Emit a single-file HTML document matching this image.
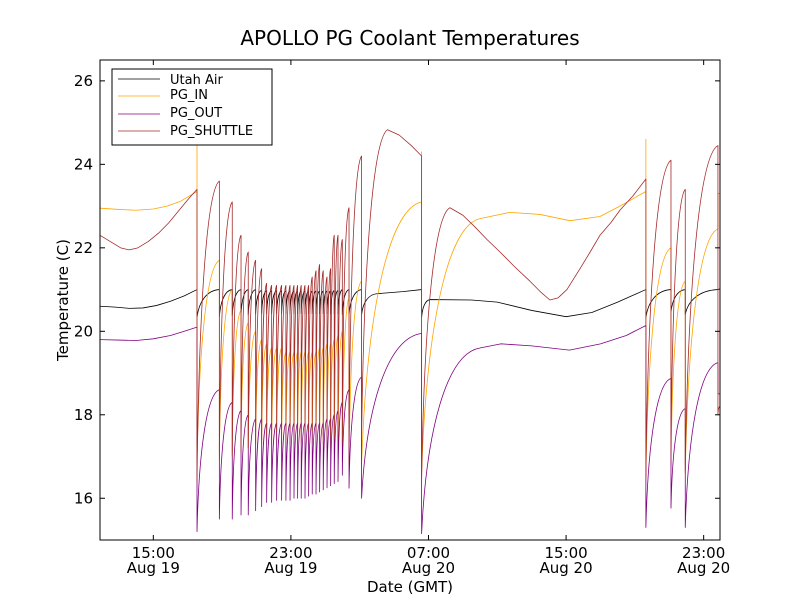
<!DOCTYPE html>
<html><head><meta charset="utf-8"><style>
body{margin:0;background:#fff;}
svg text{font-family:"DejaVu Sans","Liberation Sans",sans-serif;}
</style></head><body>
<svg id="chart" width="800" height="600" xmlns="http://www.w3.org/2000/svg">
<rect width="800" height="600" fill="#fff"/>
<text x="410" y="45" font-size="20" text-anchor="middle">APOLLO PG Coolant Temperatures</text>
<g id="plot"></g>
<rect x="100" y="60" width="620" height="480" fill="none" stroke="#000" stroke-width="1"/>
<g id="ticks"></g>
<text transform="translate(68,300) rotate(-90)" font-size="15" text-anchor="middle">Temperature (C)</text>
<text x="410" y="592" font-size="15" text-anchor="middle">Date (GMT)</text>
<g>
<rect x="112" y="69" width="160" height="76" fill="#fff" stroke="#000" stroke-width="1"/>
<line x1="118" y1="79" x2="160" y2="79" stroke="#000" stroke-width="0.8"/>
<text x="170" y="84" font-size="13">Utah Air</text>
<line x1="118" y1="96" x2="160" y2="96" stroke="#FFA500" stroke-width="0.8"/>
<text x="170" y="99" font-size="13">PG_IN</text>
<line x1="118" y1="114" x2="160" y2="114" stroke="#800080" stroke-width="0.8"/>
<text x="170" y="117" font-size="13">PG_OUT</text>
<line x1="118" y1="131" x2="160" y2="131" stroke="#A52A2A" stroke-width="0.8"/>
<text x="170" y="135" font-size="13">PG_SHUTTLE</text>
</g>
</svg>
<script>
// time in hours since Aug 19 00:00 GMT
const xTicks = [15, 23, 31, 39, 47];
const xTickLabels = [["15:00","Aug 19"],["23:00","Aug 19"],["07:00","Aug 20"],["15:00","Aug 20"],["23:00","Aug 20"]];
const yTicks = [16, 18, 20, 22, 24, 26];
const oscTimes = [17.54,18.84,19.59,20.10,20.52,20.95,21.30,21.59,21.88,22.17,22.46,22.71,22.95,23.18,23.39,23.60,23.82,24.03,24.24,24.46,24.67,24.88,25.10,25.31,25.52,25.74,25.99,26.38,27.11];
const airStart = [[11.9,20.6],[12.8,20.58],[13.6,20.55],[14.4,20.56],[15.2,20.62],[16.0,20.72],[16.8,20.85]];
const airPeak = [21.0,21.0,21.0,21.0,21.0,21.0,20.98,20.97,20.97,20.97,20.97,20.97,20.97,20.97,20.97,20.97,20.97,20.97,20.97,20.97,20.97,20.97,20.97,20.97,20.98,20.98,21.0,21.0,21.0];
const airTrough = [20.33,20.35,20.38,20.4,20.4,20.42,20.42,20.42,20.42,20.42,20.42,20.42,20.42,20.42,20.42,20.42,20.42,20.42,20.42,20.42,20.42,20.42,20.42,20.42,20.42,20.42,20.4,20.4,20.4];
const airEnd = [[28.0,20.9],[29.5,20.95],[30.6,21.0],[30.6,20.33],[31.1,20.76],[33.5,20.75],[35,20.7],[37,20.5],[39,20.35],[40.5,20.45],[42,20.7],[43.64,21.0],[43.64,20.33],[45.1,21.0],[45.1,20.45],[45.93,21.0],[45.93,20.4],[47.83,21.0],[47.95,21.02]];
const inStart = [[11.9,22.95],[13.0,22.92],[14.0,22.9],[15.0,22.93],[15.8,23.0],[16.6,23.12]];
const inPeak = [23.35,21.7,21.0,20.5,20.2,20.0,19.8,19.7,19.6,19.6,19.6,19.5,19.5,19.5,19.5,19.5,19.5,19.5,19.5,19.5,19.6,19.6,19.7,19.7,19.8,19.9,20.0,20.8,21.2];
const inSpike = [24.5,null,null,null,null,null,null,null,null,null,null,null,null,null,null,null,null,null,null,null,null,null,null,null,null,null,null,null,null];
const inTrough = [16.8,17.0,17.1,17.2,17.2,17.3,17.3,17.3,17.3,17.3,17.3,17.3,17.3,17.3,17.3,17.3,17.3,17.3,17.3,17.3,17.3,17.3,17.2,17.2,17.1,17.0,16.9,16.8,16.8];
const inEnd = [[30.6,23.1],[30.6,24.3],[30.6,16.6],[33.99,22.7],[35.74,22.85],[37.48,22.8],[39.23,22.65],[40.97,22.75],[42.13,23.0],[43.64,23.35],[43.64,24.6],[43.64,16.5],[45.1,22.0],[45.1,16.8],[45.93,21.2],[45.93,16.6],[47.83,22.45],[47.83,23.3],[47.95,23.3]];
const outStart = [[11.9,19.8],[13.0,19.79],[14,19.78],[15,19.82],[16,19.9],[16.8,20.0]];
const outPeak = [20.1,18.6,18.3,18.1,18.0,17.9,17.9,17.8,17.8,17.8,17.8,17.8,17.8,17.8,17.8,17.8,17.8,17.8,17.8,17.8,17.8,17.8,17.9,17.9,18.0,18.1,18.3,18.6,18.9];
const outTrough = [15.2,15.5,15.5,15.6,15.6,15.7,15.8,15.9,15.9,15.95,15.95,15.95,15.95,16.0,16.0,16.0,16.0,16.05,16.1,16.1,16.15,16.2,16.25,16.3,16.35,16.4,16.55,16.24,16.0];
const outEnd = [[30.6,19.95],[30.6,15.15],[33.99,19.6],[35.2,19.7],[37,19.65],[39.2,19.55],[41,19.7],[42.5,19.9],[43.64,20.14],[43.64,15.3],[45.1,18.87],[45.1,15.76],[45.93,18.15],[45.93,15.3],[47.83,19.25],[47.83,18.5],[47.95,18.5]];
const shStart = [[11.9,22.3],[12.5,22.15],[13.1,22.0],[13.6,21.95],[14.1,22.0],[14.7,22.15],[15.3,22.35],[15.9,22.6],[16.5,22.9],[17.1,23.2]];
const shPeak = [23.4,23.6,23.1,22.3,21.9,21.7,21.5,21.15,21.1,21.1,21.1,21.1,21.1,21.1,21.1,21.1,21.1,21.1,21.3,21.45,21.6,21.45,21.3,21.5,22.3,22.3,22.2,22.96,24.2];
const shTrough = [16.4,16.9,17.0,17.1,17.2,17.3,17.4,17.5,17.5,17.6,17.6,17.6,17.6,17.6,17.6,17.6,17.6,17.6,17.6,17.6,17.6,17.5,17.5,17.5,17.4,17.4,17.3,17.2,17.4];
const shEnd = [[28.62,24.83],[29.3,24.7],[30.0,24.45],[30.6,24.2],[30.6,16.4],[32.25,22.96],[33.0,22.78],[33.7,22.5],[34.4,22.2],[35.16,21.9],[36.0,21.55],[36.9,21.2],[37.5,20.95],[38.06,20.75],[38.53,20.8],[39.05,21.0],[39.81,21.5],[40.4,21.9],[40.97,22.3],[41.6,22.6],[42.13,22.9],[42.9,23.25],[43.64,23.65],[43.64,16.5],[45.1,24.1],[45.1,17.1],[45.93,23.4],[45.93,16.65],[47.83,24.45],[47.83,18.0],[47.95,18.2]];

const X0=100,X1=720,Y0=540,Y1=60,TMIN=11.9,TMAX=47.95,VMIN=15,VMAX=26.5;
function xs(t){return X0+(t-TMIN)/(TMAX-TMIN)*(X1-X0);}
function ys(v){return Y0-(v-VMIN)/(VMAX-VMIN)*(Y0-Y1);}
const NS="http://www.w3.org/2000/svg";
function build(start,peak,spike,trough,end){
  const pts=start.slice();
  for(let i=0;i<oscTimes.length;i++){
    pts.push([oscTimes[i],peak[i]]);
    if(spike&&spike[i]!=null) pts.push([oscTimes[i],spike[i]]);
    pts.push([oscTimes[i],trough[i]]);
  }
  return pts.concat(end);
}
function pathD(pts){
  let d="M"+xs(pts[0][0]).toFixed(2)+","+ys(pts[0][1]).toFixed(2);
  for(let i=1;i<pts.length;i++){
    const x0=xs(pts[i-1][0]),y0=ys(pts[i-1][1]),x1=xs(pts[i][0]),y1=ys(pts[i][1]);
    const afterDrop=i>=2&&pts[i-2][0]===pts[i-1][0]&&x1!==x0;
    if(afterDrop){
      const dx=x1-x0,dy=y1-y0;
      d+="C"+(x0+0.08*dx).toFixed(2)+","+(y0+0.55*dy).toFixed(2)+" "+(x0+0.42*dx).toFixed(2)+","+(y1-0.03*dy).toFixed(2)+" "+x1.toFixed(2)+","+y1.toFixed(2);
    } else d+="L"+x1.toFixed(2)+","+y1.toFixed(2);
  }
  return d;
}
const plot=document.getElementById("plot");
function addSeries(name,pts,color){
  const p=document.createElementNS(NS,"path");
  
  
  p.setAttribute("d",pathD(pts));
  p.setAttribute("fill","none");
  p.setAttribute("stroke",color);
  p.setAttribute("stroke-width","0.8");
  p.setAttribute("stroke-linejoin","round");
  plot.appendChild(p);
}
addSeries("utah-air-line",build(airStart,airPeak,null,airTrough,airEnd),"#000");
addSeries("pg-in-line",build(inStart,inPeak,inSpike,inTrough,inEnd),"#FFA500");
addSeries("pg-out-line",build(outStart,outPeak,null,outTrough,outEnd),"#800080");
addSeries("pg-shuttle-line",build(shStart,shPeak,null,shTrough,shEnd),"#A52A2A");

const tg=document.getElementById("ticks");
function line(x1,y1,x2,y2){const l=document.createElementNS(NS,"line");l.setAttribute("x1",x1);l.setAttribute("y1",y1);l.setAttribute("x2",x2);l.setAttribute("y2",y2);l.setAttribute("stroke","#000");l.setAttribute("stroke-width","1");tg.appendChild(l);return l;}
function text(x,y,s,anchor,name){const t=document.createElementNS(NS,"text");t.setAttribute("x",x);t.setAttribute("y",y);t.setAttribute("font-size","15");t.setAttribute("text-anchor",anchor);t.textContent=s;


tg.appendChild(t);}
yTicks.forEach(v=>{const y=ys(v);line(X0,y,X0+5,y);line(X1,y,X1-5,y);text(93,y+5,String(v),"end","y-tick-label");});
xTicks.forEach((t,i)=>{const x=xs(t);line(x,Y0,x,Y0-5);line(x,Y1,x,Y1+5);text(x,558,xTickLabels[i][0],"middle","x-tick-label");text(x,573,xTickLabels[i][1],"middle","x-tick-label");});
</script>
</body></html>
